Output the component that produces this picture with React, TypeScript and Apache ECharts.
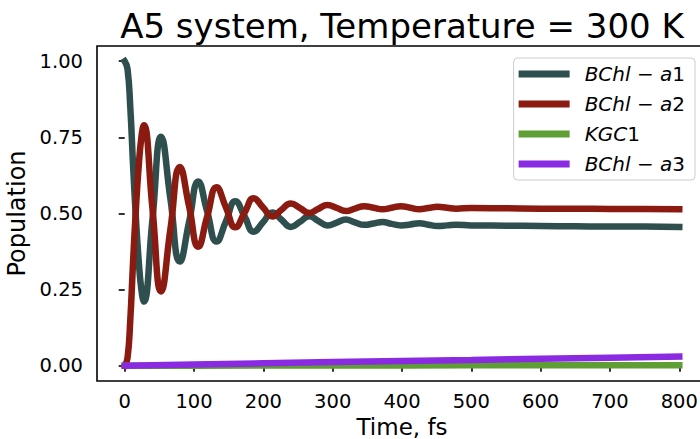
import React, { useEffect, useRef } from "react";
import * as echarts from "echarts";

const seriesNames = ["BChl − a1", "BChl − a2", "KGC1", "BChl − a3"];
const seriesColors = ["#2F4F4F", "#8B1A10", "#5E9E34", "#8A2BE2"];

const xTicks = [0, 100, 200, 300, 400, 500, 600, 700, 800];
const yTicks = [0, 0.25, 0.5, 0.75, 1.0];

const timeOsc = [
  0, 4, 8, 12, 16, 20, 24, 27.5, 40, 52.5, 66, 79.5, 93, 106, 119, 132.5, 146,
  159.5, 173, 186, 199.5, 213, 226, 239.5, 253, 266, 279, 292.5, 306, 319, 332,
  345.5, 359, 372, 385, 398.5, 412, 425, 438, 451.5, 465, 478, 500, 550, 600,
  650, 700, 750, 800,
];

const bchlA1 = [
  1.0, 0.975, 0.85, 0.66, 0.49, 0.35, 0.25, 0.211, 0.48, 0.752, 0.547, 0.342,
  0.474, 0.605, 0.506, 0.408, 0.474, 0.54, 0.49, 0.44, 0.471, 0.503, 0.48,
  0.456, 0.473, 0.491, 0.476, 0.461, 0.47, 0.48, 0.471, 0.463, 0.467, 0.472,
  0.466, 0.461, 0.464, 0.468, 0.463, 0.459, 0.461, 0.463, 0.461, 0.46, 0.459,
  0.458, 0.457, 0.457, 0.456,
];

const bchlA2 = [
  0, 0.025, 0.15, 0.34, 0.51, 0.65, 0.75, 0.79, 0.517, 0.244, 0.45, 0.653,
  0.522, 0.391, 0.49, 0.586, 0.52, 0.455, 0.503, 0.55, 0.52, 0.49, 0.512,
  0.533, 0.518, 0.502, 0.515, 0.528, 0.518, 0.508, 0.516, 0.524, 0.519, 0.514,
  0.519, 0.524, 0.519, 0.514, 0.518, 0.522, 0.519, 0.516, 0.518, 0.517, 0.516,
  0.516, 0.515, 0.515, 0.514,
];

const timeSlow = [0, 100, 200, 300, 400, 500, 600, 700, 800];
const kgc1 = [0, 0.0003, 0.0006, 0.0009, 0.0012, 0.0014, 0.0016, 0.0018, 0.002];
const bchlA3 = [0, 0.004, 0.008, 0.012, 0.0155, 0.019, 0.023, 0.0265, 0.03];

const FONT = "DejaVu Sans";

function pairs(t: number[], v: number[]) {
  return t.map((x, i) => [x, v[i]]);
}

export default function App() {
  const ref = useRef<HTMLDivElement>(null);
  useEffect(() => {
    if (!ref.current) return;
    const chart = echarts.init(ref.current, null, { renderer: "svg" });
    const dataSets = [
      pairs(timeOsc, bchlA1),
      pairs(timeOsc, bchlA2),
      pairs(timeSlow, kgc1),
      pairs(timeSlow, bchlA3),
    ];
    chart.setOption({
      animation: false,
      backgroundColor: "#ffffff",
      graphic: [
        {
          type: "text",
          x: 402,
          y: 26,
          style: {
            text: "A5 system, Temperature = 300 K",
            fontSize: 34,
            fontFamily: FONT,
            fill: "#000",
            align: "center",
            verticalAlign: "middle",
            textAlign: "center",
            textVerticalAlign: "middle",
          },
        },
      ],
      grid: {
        left: 97,
        top: 46,
        width: 610,
        height: 335,
        show: true,
        borderColor: "#000",
        borderWidth: 1.6,
        backgroundColor: "transparent",
        containLabel: false,
        outerBoundsMode: "none",
      },
      legend: {
        orient: "vertical",
        right: 5,
        top: 58,
        padding: [6, 10, 6, 5],
        itemGap: 10,
        itemWidth: 51,
        itemHeight: 7,
        icon: "rect",
        borderColor: "#cccccc",
        borderWidth: 1,
        borderRadius: 4,
        backgroundColor: "rgba(255,255,255,0.8)",
        data: seriesNames,
        formatter: (name: string) =>
          `{i|${name.slice(0, -1)}}{n|${name.slice(-1)}}`,
        textStyle: {
          rich: {
            i: {
              fontStyle: "italic",
              fontSize: 20,
              fontFamily: FONT,
              color: "#000",
              lineHeight: 22,
              padding: [0, 0, 0, 10],
            },
            n: {
              fontSize: 20,
              fontFamily: FONT,
              color: "#000",
              lineHeight: 22,
            },
          },
        },
      },
      xAxis: {
        type: "value",
        min: -40,
        max: 840,
        name: "Time, fs",
        nameLocation: "middle",
        nameGap: 30,
        nameTextStyle: {
          fontSize: 23,
          lineHeight: 23,
          fontFamily: FONT,
          color: "#000",
        },
        axisLine: { show: false },
        axisTick: {
          show: true,
          inside: false,
          length: 6,
          customValues: xTicks,
          lineStyle: { color: "#000", width: 1.6 },
        },
        axisLabel: {
          customValues: xTicks,
          margin: 10,
          fontSize: 19.5,
          fontFamily: FONT,
          color: "#000",
        },
        splitLine: { show: false },
      },
      yAxis: {
        type: "value",
        min: -0.05,
        max: 1.05,
        name: "Population",
        nameLocation: "middle",
        nameGap: 63,
        nameTextStyle: { fontSize: 24, fontFamily: FONT, color: "#000" },
        axisLine: { show: false },
        axisTick: {
          show: true,
          inside: false,
          length: 6,
          customValues: yTicks,
          lineStyle: { color: "#000", width: 1.6 },
        },
        axisLabel: {
          customValues: yTicks,
          margin: 14,
          fontSize: 19.5,
          fontFamily: FONT,
          color: "#000",
          formatter: (v: number) => v.toFixed(2),
        },
        splitLine: { show: false },
      },
      series: seriesNames.map((name, i) => ({
        name,
        type: "line",
        data: dataSets[i],
        showSymbol: false,
        symbol: "none",
        smooth: i < 2 ? 0.5 : false,
        color: seriesColors[i],
        lineStyle: { width: 6.5, color: seriesColors[i], cap: "square" },
        z: 2 + i,
      })),
    });
    return () => chart.dispose();
  }, []);
  return (
    <div
      ref={ref}
      style={{ position: "fixed", left: 0, top: 0, width: 700, height: 439 }}
    />
  );
}
